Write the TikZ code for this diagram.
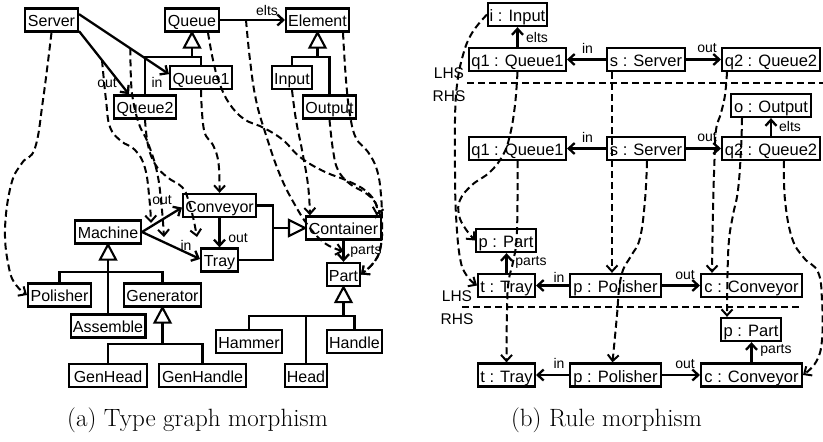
\documentclass[tikz,border=0pt]{standalone}
\usepackage{fontspec}
\newfontfamily\arial{Liberation Sans}
\usetikzlibrary{arrows.meta,calc}
\begin{document}
\begin{tikzpicture}[x=1pt,y=-1pt,
  box/.style={draw, line width=2.3pt, inner xsep=1pt, inner ysep=0pt, minimum height=23pt, text height=13.5pt, text depth=0pt, font=\arial\fontsize{16}{18}\selectfont},
  rbox/.style={box, text height=14pt, font=\arial\fontsize{16.5}{18}\selectfont},
  lab/.style={inner sep=0pt, font=\arial\fontsize{14}{16}\selectfont},
  sidelab/.style={inner sep=0pt, font=\arial\fontsize{15.5}{17}\selectfont},
  conn/.style={line width=2.3pt, -{Straight Barb[length=6pt,width=11pt]}},
  tree/.style={line width=2.3pt},
  map/.style={line width=2pt, dash pattern=on 7pt off 4pt, -{Straight Barb[length=6pt,width=11pt]}},
  sepline/.style={line width=2pt, dash pattern=on 7pt off 4pt},
  captext/.style={inner sep=0pt, font=\fontsize{25}{28}\selectfont},
  inhup/.pic={\draw[line width=2.1pt, fill=white] (0,0) -- (8,15) -- (-8,15) -- cycle;},
  inhleft/.pic={\draw[line width=2.1pt, fill=white] (0,0) -- (-16,-8) -- (-16,8) -- cycle;},
]
\useasboundingbox (0,0) rectangle (823,442);
\fill[white] (0,0) rectangle (823,442);

% ---------- type graph (a) ----------
\node[box, minimum width=52.7] (server) at (51.5,20) {Server};
\node[box, minimum width=53.7] (queue) at (192,20) {Queue};
\node[box, minimum width=62.7] (element) at (317.5,20) {Element};
\node[box, minimum width=61.7] (queue1) at (201,77.5) {Queue1};
\node[box, minimum width=61.7] (queue2) at (145,107) {Queue2};
\node[box, minimum width=39.7] (input) at (292,77.5) {Input};
\node[box, minimum width=52.7] (output) at (329.5,107) {Output};
\node[box, minimum width=72.7] (conveyor) at (219.5,205.5) {Conveyor};
\node[box, minimum width=36.7] (tray) at (219.5,260) {Tray};
\node[box, minimum width=74.7] (container) at (343.5,228) {Container};
\node[box, minimum width=32.7] (part) at (343.5,274.5) {Part};
\node[box, minimum width=65.7] (machine) at (108,232) {Machine};
\node[box, minimum width=62.7] (polisher) at (59.5,295) {Polisher};
\node[box, minimum width=76.7] (generator) at (162.5,295) {Generator};
\node[box, minimum width=74.7] (assemble) at (108,326) {Assemble};
\node[box, minimum width=77.7] (genhead) at (108,375.5) {GenHead};
\node[box, minimum width=86.7] (genhandle) at (202.5,375.5) {GenHandle};
\node[box, minimum width=65.7] (hammer) at (249,341.5) {Hammer};
\node[box, minimum width=54.7] (handle) at (354.5,341.5) {Handle};
\node[box, minimum width=41.7] (head) at (306,375.5) {Head};

% inheritance trees
\coordinate (qj) at (192,57);
\draw[tree] ($(queue.south)+(0,15)$) -- (qj);
\draw[tree] (queue2.north) |- (queue1.north |- qj) -- (queue1.north);
\coordinate (ej) at (317.5,57);
\draw[tree] ($(element.south)+(0,15)$) -- (ej);
\draw[tree] (input.north) |- (output.north |- ej) -- (output.north);
\coordinate (mj) at (108,272);
\draw[tree] ($(machine.south)+(0,15)$) -- (assemble.north);
\draw[tree] (polisher.north) |- (generator.north |- mj) -- (generator.north);
\coordinate (gj) at (162.5,344);
\draw[tree] ($(generator.south)+(0,15)$) -- (gj);
\draw[tree] (genhead.north) |- (genhandle.north |- gj) -- (genhandle.north);
\coordinate (pj) at (343.5,316);
\draw[tree] ($(part.south)+(0,15)$) -- (pj);
\draw[tree] (hammer.north) |- (handle.north |- pj) -- (handle.north);
\draw[tree] (head.north) -- (head.north |- pj);
\coordinate (cj1) at (273,205.5);
\coordinate (cj2) at (273,260);
\draw[tree] (conveyor.east) -- (cj1) -- (cj2) -- (tray.east);
\draw[tree] (273,228) -- ($(container.west)+(-16,0)$);
\pic at (queue.south) {inhup};
\pic at (element.south) {inhup};
\pic at (machine.south) {inhup};
\pic at (generator.south) {inhup};
\pic at (part.south) {inhup};
\pic at (container.west) {inhleft};

% edges
\draw[conn] (server.12) -- (queue1.174) coordinate[pos=0.57] (inE);
\draw[conn] (server.-22) -- ($(queue2.north)+(-16,0)$) coordinate[pos=0.46] (outE);
\draw[conn] (queue.east) -- (element.west) coordinate[pos=0.4] (eltsE);
\draw[conn] (machine.east) -- ($(conveyor.west)+(0,2)$);
\draw[conn] (machine.east) -- ($(tray.west)+(0,-1)$);
\draw[conn] (conveyor.south) -- (tray.north);
\draw[conn] (container.south) -- (part.north) coordinate[pos=0.5] (partsE);

\node[lab] (lbElts) at (267,10) {elts};
\node[lab] (lbIn) at (157,82) {in};
\node[lab] (lbOut) at (107,83) {out};
\node[lab] (lbOut2) at (162,200) {out};
\node[lab] (lbIn2) at (186,245) {in};
\node[lab] (lbOut3) at (238,238) {out};
\node[lab] (lbParts) at (366,251) {parts};

% mappings
\draw[map] plot[smooth, tension=0.7] coordinates {(server.south) (43,100) (35,148) (22,163) (11,185) (5,230) (9,268) (16,285) (polisher.west)};
\draw[map] plot[smooth, tension=0.7] coordinates {(outE) (106,100) (110,127) (121,141) (135,150) (145,168) (149.5,200) (151,223)};
\draw[map] plot[smooth, tension=0.7] coordinates {(inE) (131,80) (133,100) (139,124) (148,143) (157,172) (161.5,205) (164,237)};
\draw[map] plot[smooth, tension=0.7] coordinates {(queue2.south) (148,145) (155,164) (167,177) (182,187) (188,199) (193,217) (197,237)};
\draw[map] plot[smooth, tension=0.7] coordinates {(queue1.south) (204,130) (213,145) (218.5,163) (conveyor.north)};
\draw[map] plot[smooth, tension=0.7] coordinates {([xshift=16pt]queue.south) (213,60) (219,82) (229,103) (244,119) (264,128) (283,140) (300,157) (323,171) (348,181) (366,191) (376,204) ([xshift=33pt]container.north)};
\draw[map] plot[smooth, tension=0.7] coordinates {(eltsE) (250,60) (256,100) (266,135) (280,175) (295,205) (310,228) (326,244) (partsE)};
\draw[map] plot[smooth, tension=0.7] coordinates {(input.south) (296,120) (302,150) (308,185) ([xshift=-33.5pt]container.north)};
\draw[map] plot[smooth, tension=0.7] coordinates {(output.south) (333,150) (338,170) (350,184) (367,194) (377,206) (381.5,225) (381,245) (375,261) (part.east)};
\draw[map] plot[smooth, tension=0.7] coordinates {([xshift=25.5pt]element.south) (346,80) (350,115) (356,138) (368,152) (377,170) (381,195) (382,225) (381,245) (375,261) (part.east)};

% ---------- rule morphism (b) ----------
\node[rbox, minimum width=58.7] (ri) at (517.5,14.5) {i : Input};
\node[rbox, minimum width=96.7] (lq1) at (517.5,59.5) {q1 : Queue1};
\node[rbox, minimum width=77.7] (ls) at (646,59.5) {s : Server};
\node[rbox, minimum width=97.7] (lq2) at (771,59.5) {q2 : Queue2};
\node[rbox, minimum width=79.7] (ro) at (771,105.5) {o : Output};
\node[rbox, minimum width=96.7] (rq1) at (517.5,148.5) {q1 : Queue1};
\node[rbox, minimum width=77.7] (rs) at (646,148.5) {s : Server};
\node[rbox, minimum width=97.7] (rq2) at (771,148.5) {q2 : Queue2};
\node[rbox, minimum width=59.7] (lpart) at (506,240.5) {p : Part};
\node[rbox, minimum width=56.7] (ltray) at (506.5,285.5) {t : Tray};
\node[rbox, minimum width=90.7] (lpol) at (615.5,285.5) {p : Polisher};
\node[rbox, minimum width=100.7] (lconv) at (751.5,285.5) {c : Conveyor};
\node[rbox, minimum width=59.7] (rpart) at (751,329.5) {p : Part};
\node[rbox, minimum width=56.7] (rtray) at (506.5,375) {t : Tray};
\node[rbox, minimum width=90.7] (rpol) at (615.5,375) {p : Polisher};
\node[rbox, minimum width=100.7] (rconv) at (751.5,375) {c : Conveyor};

\draw[conn] (lq1.north) -- (ri.south);
\draw[conn] (ls.west) -- (lq1.east);
\draw[conn] (ls.east) -- (lq2.west);
\draw[conn] (rq2.north) -- (ro.south);
\draw[conn] (rs.west) -- (rq1.east);
\draw[conn] (rs.east) -- (rq2.west);
\draw[conn] (ltray.north) -- (ltray.north |- lpart.south);
\draw[conn] (lpol.west) -- (ltray.east);
\draw[conn] (lpol.east) -- (lconv.west);
\draw[conn] (rconv.north) -- (rconv.north |- rpart.south);
\draw[conn] (rpol.west) -- (rtray.east);
\draw[conn] (rpol.east) -- (rconv.west);

\node[lab] (lbA1) at (587.5,48) {in};
\node[lab] (lbA2) at (707,48) {out};
\node[lab] (lbA3) at (537,37) {elts};
\node[lab] (lbB1) at (587.5,137) {in};
\node[lab] (lbB2) at (707,137) {out};
\node[lab] (lbB3) at (790,126) {elts};
\node[lab] (lbC1) at (531,262) {parts};
\node[lab] (lbC2) at (559,277) {in};
\node[lab] (lbC3) at (685,275) {out};
\node[lab] (lbD1) at (776,350) {parts};
\node[lab] (lbD2) at (559,363) {in};
\node[lab] (lbD3) at (685,364) {out};

\node[sidelab] (lhs1) at (449,73) {LHS};
\node[sidelab] (rhs1) at (449,96) {RHS};
\node[sidelab] (lhs2) at (457,296) {LHS};
\node[sidelab] (rhs2) at (457,319) {RHS};
\coordinate (s1a) at (467,83);
\coordinate (s1b) at (823,83);
\coordinate (s2a) at (462,307);
\coordinate (s2b) at (802,307);
\draw[sepline] (s1a) -- (s1b);
\draw[sepline] (s2a) -- (s2b);

% rule mappings
\draw[map] plot[smooth, tension=0.7] coordinates {(ri.west) (472,33) (463,55) (457,85) (455,120) (455,170) (456,215) (460,258) (467,276) (ltray.west)};
\draw[map] plot[smooth, tension=0.7] coordinates {(lq1.south) (515,105) (510,135) (503,155) (490,172) (472,185) (460,200) (459,215) (465,228) (lpart.west)};
\draw[map] plot[smooth, tension=0.7] coordinates {(rq1.south) (517.5,200) (516.5,240) (513,262) (508.5,282) (507,310) (rtray.north)};
\draw[map] ([xshift=6pt]ls.south west) -- ([xshift=6pt]ls.south west |- lpol.north);
\draw[map] plot[smooth, tension=0.7] coordinates {([xshift=1pt]rs.south) (645,200) (640,238) (631,256) (623,270) (619,290) (617,315) ([xshift=-3pt]rpol.north)};
\draw[map] plot[smooth, tension=0.7] coordinates {([xshift=-44pt]lq2.south) (725,95) (721,113) (716,130) (714.5,160) (713,210) ([xshift=-39.5pt]lconv.north)};
\draw[map] plot[smooth, tension=0.7] coordinates {([xshift=-29pt]ro.south) (741,150) (738,190) (733,215) (729,240) (727.5,275) ([xshift=-24pt]rpart.north)};
\draw[map] plot[smooth, tension=0.7] coordinates {([xshift=13pt]rq2.south) (785,200) (792,238) (804,258) (818,272) (822,300) (822,340) (816,362) (rconv.east)};

% captions
\node[captext, anchor=base] (capa) at (197.5,426) {(a) Type graph morphism};
\node[captext, anchor=base] (capb) at (606.5,426) {(b) Rule morphism};
\end{tikzpicture}
\end{document}
